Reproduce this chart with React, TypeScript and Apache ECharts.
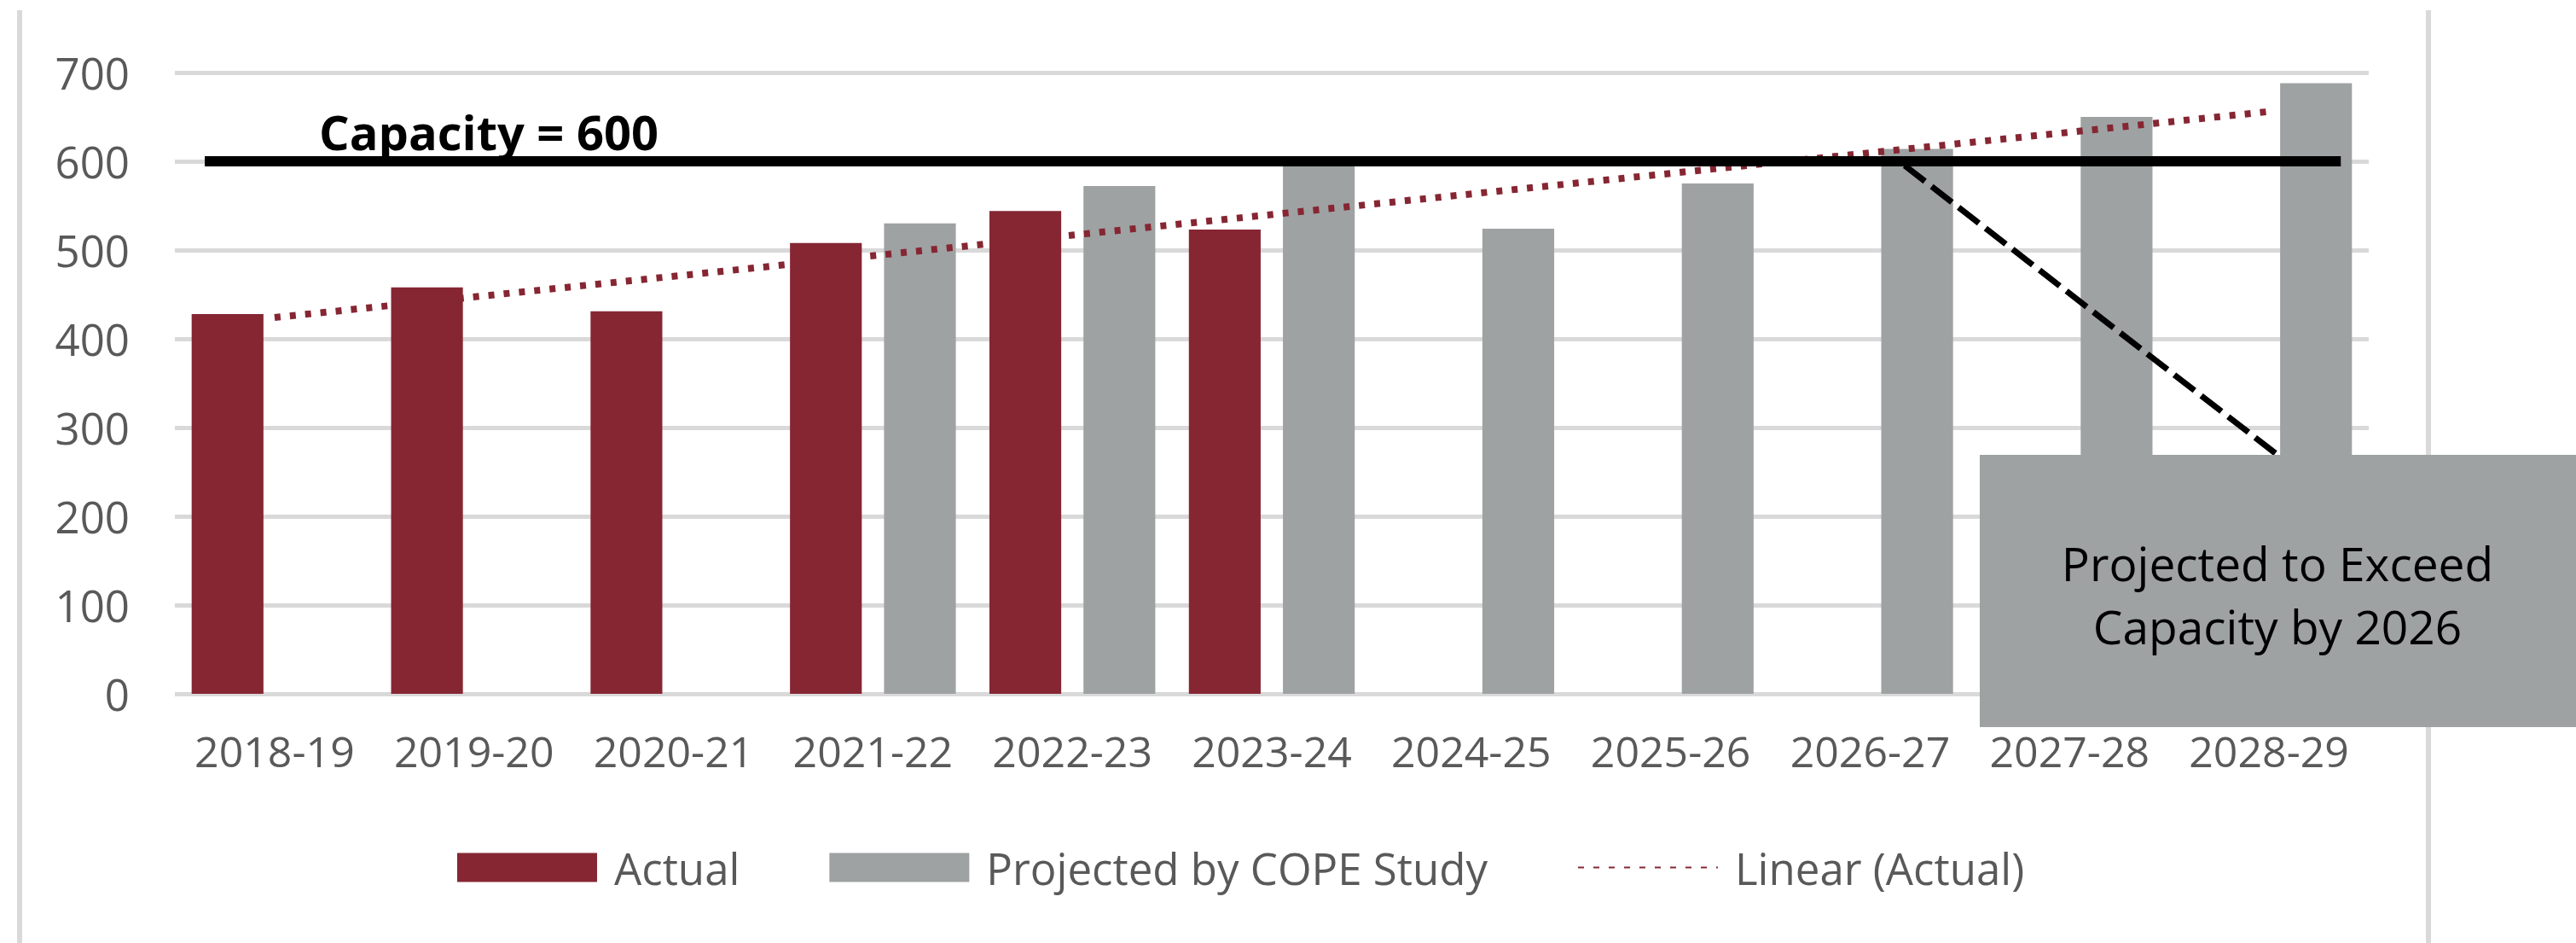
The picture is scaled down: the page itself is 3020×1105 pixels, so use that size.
import React, { useEffect, useRef } from "react";
import * as echarts from "echarts";

// School years shown on the category axis
const categories = [
  "2018-19", "2019-20", "2020-21", "2021-22", "2022-23", "2023-24",
  "2024-25", "2025-26", "2026-27", "2027-28", "2028-29",
];

// Enrollment counts
const actual = [428, 458, 431, 508, 544, 523, null, null, null, null, null];
const projected = [null, null, null, 530, 572, 597, 524, 575, 614, 650, 688];

// Linear trend of the actual counts, from first to last year
const trendFirst = 424;
const trendLast = 656;
const trend = categories.map((_, i) =>
  i === 0 ? trendFirst : i === categories.length - 1 ? trendLast : null
);

const capacity = 600;
const yMin = 0;
const yMax = 700;
const yStep = 100;

const MAROON = "#862633";
const GRAY = "#9EA2A2";
const GRID = "#D9D9D9";
const LABEL = "#595959";
const FONT = "'Open Sans', 'Noto Sans', sans-serif";

export default function App() {
  const ref = useRef<HTMLDivElement>(null);

  useEffect(() => {
    if (!ref.current) return;
    const chart = echarts.init(ref.current, null, { renderer: "svg" });

    chart.setOption({
      animation: false,
      backgroundColor: "#ffffff",
      textStyle: { fontFamily: FONT },
      grid: { left: 205, right: 243, top: 85, bottom: 292, containLabel: false },
      xAxis: [
        {
          type: "category",
          data: categories,
          axisLine: { show: false },
          axisTick: { show: false },
          axisLabel: {
            color: LABEL,
            fontSize: 50,
            margin: 42,
            interval: 0,
            fontFamily: FONT,
          },
        },
        {
          // positional axis aligned with the category slots, used for the capacity bar
          type: "value",
          min: -0.5,
          max: categories.length - 0.5,
          show: false,
        },
      ],
      yAxis: {
        type: "value",
        min: yMin,
        max: yMax,
        interval: yStep,
        axisLine: { show: false },
        axisTick: { show: false },
        axisLabel: { color: LABEL, fontSize: 51, margin: 53, fontFamily: FONT },
        splitLine: { lineStyle: { color: GRID, width: 5 } },
      },
      legend: {
        left: 531,
        top: 986,
        itemWidth: 164,
        itemHeight: 34,
        itemGap: 105,
        textStyle: { color: LABEL, fontSize: 51, fontFamily: FONT, padding: [0, 0, 0, 15] },
        data: [
          { name: "Actual", icon: "rect" },
          { name: "Projected by COPE Study", icon: "rect" },
          { name: "Linear (Actual)", itemStyle: { opacity: 0 } },
        ],
      },
      series: [
        {
          name: "Actual",
          type: "bar",
          data: actual,
          barWidth: "36%",
          barGap: "31%",
          itemStyle: { color: MAROON },
          z: 2,
        },
        {
          name: "Projected by COPE Study",
          type: "bar",
          data: projected,
          barWidth: "36%",
          barGap: "31%",
          itemStyle: { color: GRAY },
          z: 2,
        },
        {
          name: "Linear (Actual)",
          type: "line",
          data: trend,
          connectNulls: true,
          symbol: "none",
          showSymbol: false,
          itemStyle: { color: MAROON },
          lineStyle: { color: MAROON, width: 8, type: [7, 11], cap: "butt" },
          z: 3,
        },
        {
          name: "Capacity",
          type: "line",
          xAxisIndex: 1,
          data: [
            [-0.35, capacity],
            [10.36, capacity],
          ],
          symbol: "none",
          lineStyle: { color: "#000000", width: 12 },
          z: 4,
          silent: true,
        },
      ],
      graphic: [
        // chart area side borders
        {
          type: "line",
          shape: { x1: 23, y1: 12, x2: 23, y2: 1105 },
          style: { stroke: GRID, lineWidth: 6 },
          z: 1,
        },
        {
          type: "line",
          shape: { x1: 2847, y1: 12, x2: 2847, y2: 1105 },
          style: { stroke: GRID, lineWidth: 6 },
          z: 1,
        },
        {
          type: "text",
          x: 573,
          y: 154,
          style: {
            text: "Capacity = " + capacity,
            font: `bold 56px ${FONT}`,
            fill: "#000000",
            textAlign: "center",
            textVerticalAlign: "middle",
          },
          z: 10,
        },
        // callout pointer and box
        {
          type: "line",
          shape: { x1: 2233, y1: 194, x2: 2670, y2: 533 },
          style: { stroke: "#000000", lineWidth: 7, lineDash: [30, 10] },
          z: 10,
        },
        {
          type: "rect",
          shape: { x: 2321, y: 533, width: 720, height: 319 },
          style: { fill: GRAY },
          z: 11,
        },
        {
          type: "text",
          x: 2670,
          y: 696,
          style: {
            text: "Projected to Exceed\nCapacity by 2026",
            font: `normal 55px ${FONT}`,
            lineHeight: 74,
            fill: "#000000",
            textAlign: "center",
            textVerticalAlign: "middle",
          },
          z: 12,
        },
      ],
    });

    return () => chart.dispose();
  }, []);

  return (
    <div
      ref={ref}
      style={{ position: "absolute", left: 0, top: 0, width: 3020, height: 1105 }}
    />
  );
}
